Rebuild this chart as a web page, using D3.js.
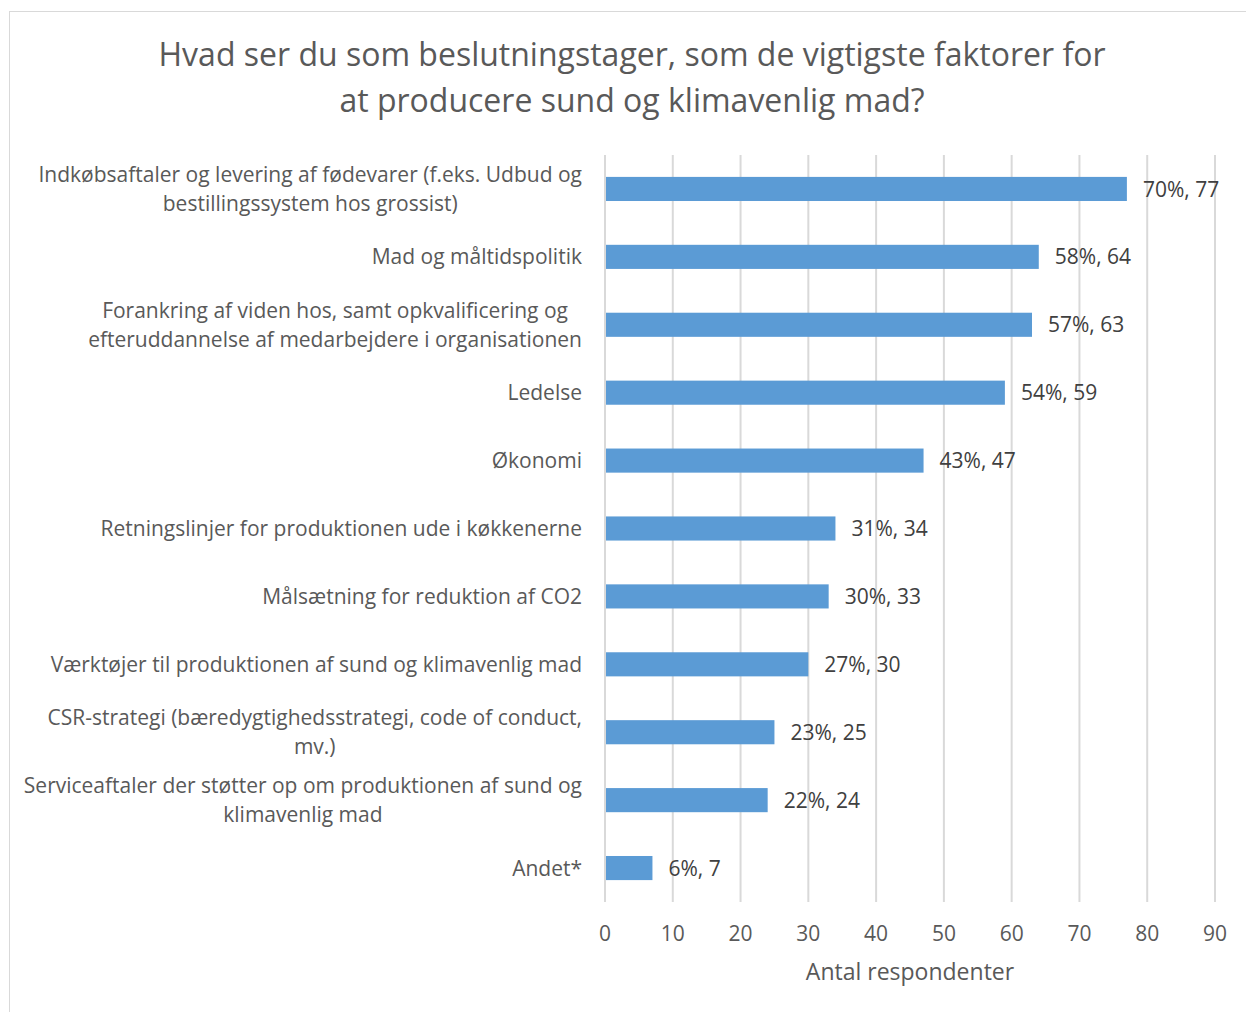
<!DOCTYPE html>
<html><head><meta charset="utf-8">
<script src="https://cdn.jsdelivr.net/npm/d3@7"></script>
<style>body{margin:0;background:#fff}</style>
</head><body>
<svg id="c" width="1246" height="1012"></svg>
<script>
const categories = [
  ["Indkøbsaftaler og levering af fødevarer (f.eks. Udbud og", "bestillingssystem hos grossist)"],
  ["Mad og måltidspolitik"],
  ["Forankring af viden hos, samt opkvalificering og", "efteruddannelse af medarbejdere i organisationen"],
  ["Ledelse"],
  ["Økonomi"],
  ["Retningslinjer for produktionen ude i køkkenerne"],
  ["Målsætning for reduktion af CO2"],
  ["Værktøjer til produktionen af sund og klimavenlig mad"],
  ["CSR-strategi (bæredygtighedsstrategi, code of conduct,", "mv.)"],
  ["Serviceaftaler der støtter op om produktionen af sund og", "klimavenlig mad"],
  ["Andet*"]
];
const counts = [77, 64, 63, 59, 47, 34, 33, 30, 25, 24, 7];
const percents = ["70%", "58%", "57%", "54%", "43%", "31%", "30%", "27%", "23%", "22%", "6%"];
const xTicks = [0,10,20,30,40,50,60,70,80,90];
const titleLines = ["Hvad ser du som beslutningstager, som de vigtigste faktorer for", "at producere sund og klimavenlig mad?"];
const axisTitle = "Antal respondenter";

const svg = d3.select("#c");
const font = "'Open Sans', sans-serif";
const txt = "#595959";

svg.append("rect").attr("x",9.5).attr("y",11.5).attr("width",1250).attr("height",1010)
  .attr("fill","none").attr("stroke","#d9d9d9").attr("stroke-width",1);

svg.append("g").selectAll("text").data(titleLines).join("text")
  .attr("x",632).attr("y",(d,i)=>66+i*46).attr("text-anchor","middle")
  .attr("font-family",font).attr("font-size",32).attr("fill",txt).text(d=>d);

const x = d3.scaleLinear().domain([0,90]).range([605,1215]);
const y = d3.scaleBand().domain(d3.range(categories.length)).range([155,902]).paddingInner(0.645).paddingOuter(0.3225);

const g = svg.append("g");
g.selectAll("line.grid").data(xTicks).join("line")
  .attr("x1",d=>x(d)).attr("x2",d=>x(d)).attr("y1",155).attr("y2",902)
  .attr("stroke","#d9d9d9").attr("stroke-width",2);

g.selectAll("rect.bar").data(counts).join("rect")
  .attr("x",x(0)+1).attr("y",(d,i)=>y(i)).attr("width",d=>x(d)-x(0)-1).attr("height",y.bandwidth())
  .attr("fill","#5B9BD5");

g.selectAll("text.dl").data(counts).join("text")
  .attr("x",d=>x(d)+16).attr("y",(d,i)=>y(i)+y.bandwidth()/2).attr("dy","0.36em")
  .attr("font-family",font).attr("font-size",21).attr("fill","#404040")
  .text((d,i)=>percents[i]+", "+d);

const lab = g.selectAll("text.cat").data(categories).join("text")
  .attr("text-anchor","middle").attr("font-family",font).attr("font-size",21).attr("fill",txt);
lab.each(function(lines,i){
  const cy = y(i)+y.bandwidth()/2;
  const n = lines.length;
  const ts = d3.select(this).selectAll("tspan").data(lines).join("tspan")
    .attr("y",(d,j)=>cy+(j-(n-1)/2)*29).attr("dy","0.36em").text(d=>d);
  let maxW = 0;
  ts.each(function(){ maxW = Math.max(maxW, this.getComputedTextLength()); });
  ts.attr("x", 582 - maxW/2);
});

g.selectAll("text.tick").data(xTicks).join("text")
  .attr("x",d=>x(d)).attr("y",933).attr("dy","0.36em").attr("text-anchor","middle")
  .attr("font-family",font).attr("font-size",21).attr("fill",txt).text(d=>d);

svg.append("text").attr("x",910).attr("y",972).attr("dy","0.36em").attr("text-anchor","middle")
  .attr("font-family",font).attr("font-size",23).attr("fill",txt).text(axisTitle);
</script>
</body></html>
